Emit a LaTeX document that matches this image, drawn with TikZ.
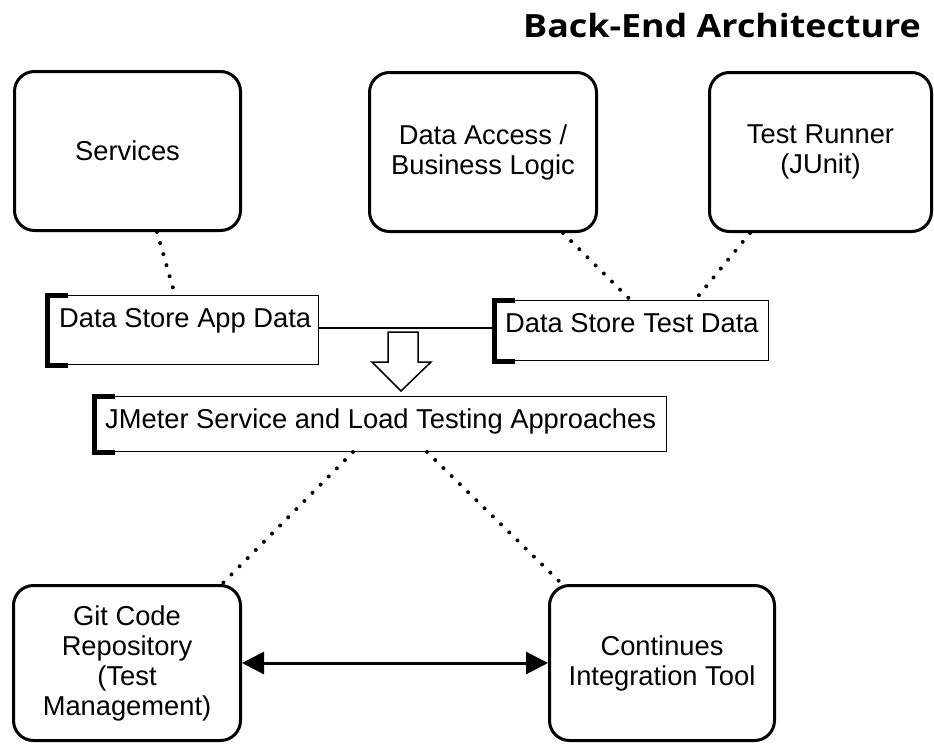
\documentclass[tikz,border=0pt]{standalone}
\usepackage{fontspec}
\setmainfont{Liberation Sans}
\newfontfamily\headfont{Open Sans}[FakeStretch=1.12]
\usetikzlibrary{arrows.meta,calc}
\begin{document}
\begin{tikzpicture}[x=1pt,y=-1pt,
  box/.style={draw, line width=3pt, rounded corners=20pt, align=center,
    font=\fontsize{27.3}{30}\selectfont, inner sep=0pt},
  store/.style={draw, line width=1.4pt, inner sep=0pt},
  bracket/.style={line width=5pt},
  storetext/.style={font=\fontsize{27.3}{30}\selectfont, inner sep=0pt, anchor=base west},
  dots/.style={line width=4pt, line cap=round, dash pattern=on 0pt off 11.5pt},
  link/.style={line width=1.4pt},
  both/.style={line width=3pt, {Triangle[length=22pt,width=22pt]}-{Triangle[length=22pt,width=22pt]}},
]
% canvas
\useasboundingbox (0,0) rectangle (934,744);
\fill[white] (0,0) rectangle (934,744);

% heading
\node[anchor=base west, inner sep=0pt, font=\headfont\bfseries\fontsize{32}{38}\selectfont]
  (title) at (523,37) {Back-End Architecture};

% top row
\node[box, minimum width=226pt, minimum height=159pt] (srv) at (127.5,151) {Services};
\node[box, minimum width=227pt, minimum height=159pt] (dal) at (483,152) {Data Access /\\Business Logic};
\node[box, minimum width=222pt, minimum height=159pt] (run) at (820.5,152) {Test Runner\\(JUnit)};

% data stores
\node[store, minimum width=272.6pt, minimum height=68.6pt] (app) at (182,330) {};
\node[storetext] at ($(app.west)+(14,-3)$) {Data Store App Data};
\draw[bracket] ([xshift=23pt]app.north west) -- ([xshift=2.5pt]app.north west)
  -- ([xshift=2.5pt]app.south west) -- ([xshift=23pt]app.south west);

\node[store, minimum width=275.6pt, minimum height=59.6pt] (tst) at (630.5,330.5) {};
\node[storetext] at ($(tst.west)+(13,1.5)$) {Data Store Test Data};
\draw[bracket] ([xshift=23pt]tst.north west) -- ([xshift=2.5pt]tst.north west)
  -- ([xshift=2.5pt]tst.south west) -- ([xshift=23pt]tst.south west);

\draw[link] ([yshift=2pt]app.east) -- ([yshift=2pt]app.east -| tst.west);

% load testing
\node[store, minimum width=573.6pt, minimum height=54.6pt] (jm) at (379.5,424) {};
\node[storetext] at ($(jm.west)+(13,4)$) {JMeter Service and Load Testing Approaches};
\draw[bracket] ([xshift=23pt]jm.north west) -- ([xshift=2.5pt]jm.north west)
  -- ([xshift=2.5pt]jm.south west) -- ([xshift=23pt]jm.south west);

% hollow block arrow
\draw[line width=1.5pt, fill=white, line join=miter]
  (388,332) -- (418,332) -- (418,362) -- (431,362) -- (401,391)
  -- (372,362) -- (388,362) -- cycle;

% bottom row
\node[box, minimum width=227pt, minimum height=155pt] (git) at (127,663)
  {Git Code\\Repository\\(Test\\Management)};
\node[box, minimum width=225pt, minimum height=155pt] (ci) at (662,663)
  {Continues\\Integration Tool};

% dotted links
\draw[dots] ([xshift=29.5pt]srv.south) -- ([xshift=-7pt]app.north);
\draw[dots] ([xshift=80pt]dal.south) -- (tst.north);
\draw[dots] ([xshift=-70.5pt]run.south) -- ([xshift=64.5pt]tst.north);
\draw[dots] ([xshift=-26.5pt]jm.south) -- ([xshift=95pt]git.north);
\draw[dots] ([xshift=47.5pt]jm.south) -- ([xshift=-100pt]ci.north);

% two-way link
\draw[both] (git.east) -- (ci.west);
\end{tikzpicture}
\end{document}
